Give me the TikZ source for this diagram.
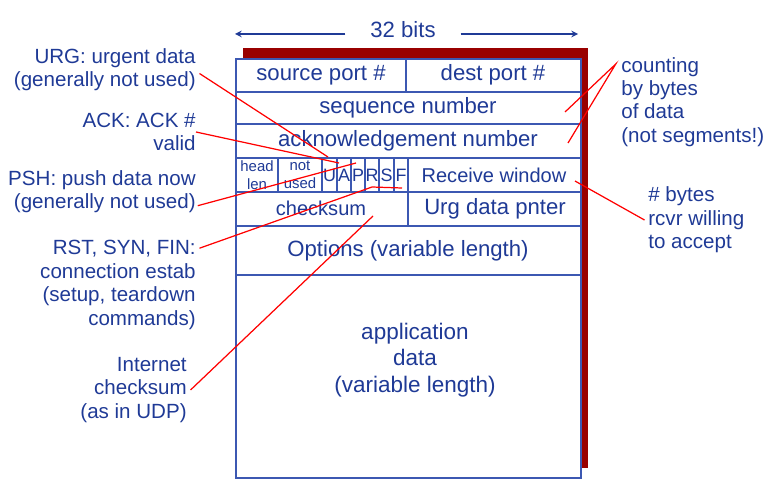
\documentclass[tikz,border=0pt]{standalone}
\usepackage{fontspec}
\setmainfont{Liberation Sans}
\usetikzlibrary{arrows, positioning}

\definecolor{txtblue}{RGB}{31,58,150}
\definecolor{boxblue}{RGB}{60,88,178}
\definecolor{shadowred}{RGB}{153,0,0}

\begin{document}
\begin{tikzpicture}[x=0.02cm, y=-0.02cm,
    field/.style={text=txtblue, inner sep=0pt, font=\fontsize{12.6}{15}\selectfont},
    small/.style={text=txtblue, inner sep=0pt, font=\fontsize{11.4}{13}\selectfont},
    tiny/.style={text=txtblue, inner sep=0pt, align=center, font=\fontsize{8.5}{10.2}\selectfont},
    flag/.style={text=txtblue, inner sep=0pt, font=\fontsize{10.2}{12}\selectfont},
    note/.style={text=txtblue, inner sep=0pt, font=\fontsize{11.7}{13.3}\selectfont},
    grid/.style={draw=boxblue, line width=1pt},
    callout/.style={red, line width=0.7pt},
    dim/.style={->, >=stealth, txtblue, line width=0.7pt}
]
\useasboundingbox (0,0) rectangle (776,489);

% segment box
\fill[shadowred] (243,48) rectangle (588,468);
\filldraw[fill=white, grid] (236,59) rectangle (581,478);
\foreach \y in {92,124,158,192,226,275}
    \draw[grid] (236,\y) -- (581,\y);
\draw[grid] (406,59) -- (406,92);
\foreach \x in {278,322,337,351,365,379,394,408}
    \draw[grid] (\x,158) -- (\x,192);
\draw[grid] (408,192) -- (408,226);

% width
\node[field, inner xsep=14pt] (bits) at (403,30) {32 bits};
\coordinate (wl) at (235,34);
\coordinate (wr) at (578,34);
\draw[dim] (bits.west |- wl) -- (wl);
\draw[dim] (bits.east |- wr) -- (wr);

% fields
\node[field] (src) at (321,75) {source port \#};
\node[field] (dst) at (493,75) {dest port \#};
\node[field] (seq) at (408,108) {sequence number};
\node[field] (ack) at (408,141) {acknowledgement number};
\node[tiny] (hlen) at (257,175) {head\\len};
\node[tiny] (nused) at (300,175) {not\\used};
\foreach \f/\x in {U/329.5,A/344,P/358,R/372,S/386.5,F/401}
    \node[flag] (f\f) at (\x,175) {\f};
\node[small] (rwin) at (494,175) {Receive window};
\node[small] (csum) at (321,208) {checksum};
\node[field] (urgp) at (495,209) {Urg data pnter};
\node[field] (opts) at (408,251) {Options (variable length)};
\node[field, align=center, font=\fontsize{12.8}{15.2}\selectfont] (appd) at (415,360) {application\\data\\(variable length)};

% notes on the left
\node[note, align=right, anchor=east] (urg) at (196,70) {URG: urgent data\\(generally not used)};
\node[note, align=right, anchor=east] (acknote) at (196,132) {ACK: ACK \#\\valid};
\node[note, align=right, anchor=east] (psh) at (196,192) {PSH: push data now\\(generally not used)};
\node[note, align=right, anchor=east] (rst) at (196,285) {RST, SYN, FIN:\\connection estab\\(setup, teardown\\commands)};
\node[note, align=right, anchor=east] (inet) at (187,390) {Internet\\checksum\\(as in UDP)};

% notes on the right
\node[note, align=left, anchor=west] (cnt) at (621,102) {counting\\by bytes\\of data\\(not segments!)};
\node[note, align=left, anchor=west] (nbytes) at (648,220) {\# bytes\\rcvr willing\\to accept};

% callout ends
\coordinate (tU) at (328,157);
\coordinate (tA) at (339,163);
\coordinate (tP) at (356,163);
\coordinate (kR) at (372,187);
\coordinate (tF) at (402,188);
\coordinate (tCk) at (373,216);
\coordinate (tSeq) at (565,112);
\coordinate (tAck) at (568,143);
\coordinate (tWin) at (575,181);

\draw[callout] ([xshift=2pt,yshift=-2pt]urg.east) -- (tU);
\draw[callout] (acknote.east) -- (tA);
\draw[callout] ([xshift=1pt,yshift=4.5pt]psh.south east) -- (tP);
\draw[callout] ([xshift=2pt,yshift=-4.5pt]rst.north east) -- (kR) -- (tF);
\draw[callout] ([xshift=2pt]inet.east) -- (tCk);
\draw[callout] (tSeq) -- ([xshift=-3pt,yshift=-4pt]cnt.north west) -- (tAck);
\draw[callout] (tWin) -- ([xshift=-2pt]nbytes.west);
\end{tikzpicture}
\end{document}
